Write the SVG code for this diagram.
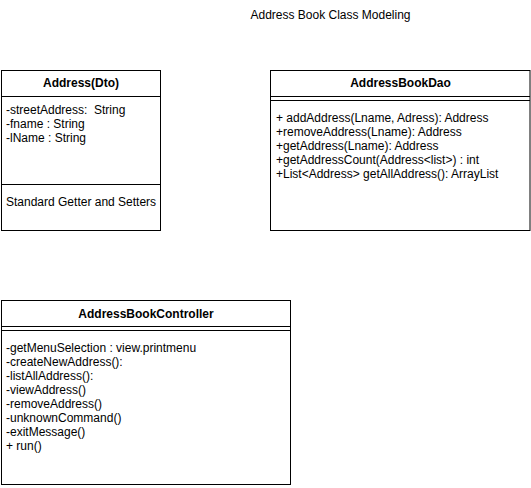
<svg xmlns="http://www.w3.org/2000/svg" width="531" height="488" viewBox="0 0 531 488">
<style>
.box{fill:#fff;stroke:#000;stroke-width:1}
.ln{stroke:#000;stroke-width:1;fill:none}
text{font-family:"Liberation Sans",Arial,sans-serif;font-size:12px;fill:#000;white-space:pre}
.h{font-weight:bold;text-anchor:middle}
.c{text-anchor:middle}
</style>
<rect width="531" height="488" fill="#fff"/>
<g id="title"><text class="c" x="330.5" y="19">Address Book Class Modeling</text></g>
<g id="address">
<rect class="box" x="1.5" y="70.5" width="159" height="160"/>
<line class="ln" x1="1.5" y1="96.5" x2="160.5" y2="96.5"/>
<line class="ln" x1="1.5" y1="184.5" x2="160.5" y2="184.5"/>
<text class="h" x="81" y="87">Address(Dto)</text>
<text x="6" y="114" xml:space="preserve">-streetAddress:  String</text>
<text x="6" y="128">-fname : String</text>
<text x="6" y="142">-lName : String</text>
<text x="6" y="206">Standard Getter and Setters</text>
</g>
<g id="dao">
<rect class="box" x="270.5" y="70.5" width="259.5" height="160"/>
<line class="ln" x1="270.5" y1="96.5" x2="530" y2="96.5"/>
<line class="ln" x1="270.5" y1="100.5" x2="530" y2="100.5"/>
<text class="h" x="400.5" y="87">AddressBookDao</text>
<text x="276" y="122" xml:space="preserve">+ addAddress(Lname, Adress): Address</text>
<text x="276" y="136">+removeAddress(Lname): Address</text>
<text x="276" y="150">+getAddress(Lname): Address</text>
<text x="276" y="164">+getAddressCount(Address&lt;list&gt;) : int</text>
<text x="276" y="178">+List&lt;Address&gt; getAllAddress(): ArrayList</text>
</g>
<g id="controller">
<rect class="box" x="1.5" y="300.5" width="289" height="184"/>
<line class="ln" x1="1.5" y1="326.5" x2="290.5" y2="326.5"/>
<line class="ln" x1="1.5" y1="330.5" x2="290.5" y2="330.5"/>
<text class="h" x="146" y="318">AddressBookController</text>
<text x="6" y="352">-getMenuSelection : view.printmenu</text>
<text x="6" y="366">-createNewAddress():</text>
<text x="6" y="380">-listAllAddress():</text>
<text x="6" y="394">-viewAddress()</text>
<text x="6" y="408">-removeAddress()</text>
<text x="6" y="422">-unknownCommand()</text>
<text x="6" y="436">-exitMessage()</text>
<text x="6" y="450" xml:space="preserve">+ run()</text>
</g>
<g id="connectors"></g>
</svg>
